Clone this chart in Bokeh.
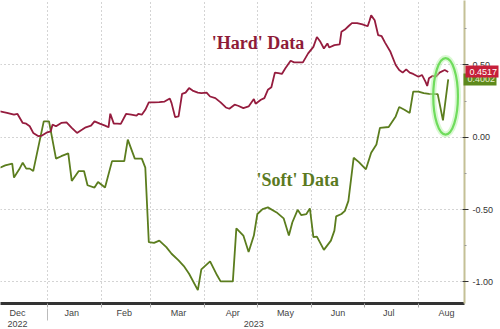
import numpy as np
from bokeh.plotting import figure
from bokeh.models import (ColumnDataSource, FixedTicker, Range1d, Label, LinearAxis,
                          NumeralTickFormatter)
from bokeh.embed import file_html
from bokeh.resources import INLINE

# ---------------- data ----------------
hard_dates = [
    "2022-12-05", "2022-12-09", "2022-12-13", "2022-12-15", "2022-12-18", "2022-12-20", "2022-12-22",
    "2022-12-24", "2022-12-27", "2022-12-29", "2023-01-01", "2023-01-03", "2023-01-04", "2023-01-06",
    "2023-01-09", "2023-01-12", "2023-01-15", "2023-01-18", "2023-01-21", "2023-01-23", "2023-01-26",
    "2023-01-28", "2023-01-31", "2023-02-03", "2023-02-05", "2023-02-06", "2023-02-08", "2023-02-10",
    "2023-02-12", "2023-02-15", "2023-02-18", "2023-02-21", "2023-02-22", "2023-02-24", "2023-02-26",
    "2023-02-28", "2023-03-03", "2023-03-06", "2023-03-09", "2023-03-12", "2023-03-13", "2023-03-15",
    "2023-03-17", "2023-03-19", "2023-03-21", "2023-03-23", "2023-03-25", "2023-03-28", "2023-03-30",
    "2023-04-02", "2023-04-04", "2023-04-07", "2023-04-10", "2023-04-13", "2023-04-15", "2023-04-18",
    "2023-04-20", "2023-04-23", "2023-04-26",
    "2023-04-29", "2023-04-30", "2023-05-03", "2023-05-05", "2023-05-07", "2023-05-09", "2023-05-11",
    "2023-05-13", "2023-05-15", "2023-05-17", "2023-05-20", "2023-05-22", "2023-05-24", "2023-05-27",
    "2023-05-30", "2023-06-02", "2023-06-04", "2023-06-06", "2023-06-08", "2023-06-10", "2023-06-11",
    "2023-06-14", "2023-06-17", "2023-06-18", "2023-06-20", "2023-06-22", "2023-06-24", "2023-06-27",
    "2023-06-30", "2023-07-03", "2023-07-04", "2023-07-05", "2023-07-07", "2023-07-09", "2023-07-11",
    "2023-07-13", "2023-07-16", "2023-07-19", "2023-07-21", "2023-07-23", "2023-07-25", "2023-07-27",
    "2023-07-29", "2023-08-01", "2023-08-03", "2023-08-05", "2023-08-06", "2023-08-07", "2023-08-09",
    "2023-08-11", "2023-08-13", "2023-08-16", "2023-08-18",
]
hard_values = [
    0.179, 0.168, 0.156, 0.161, 0.099, 0.094, 0.076,
    0.030, 0.007, 0.012, 0.034, 0.041, 0.087, 0.076,
    0.099, 0.103, 0.065, 0.030, 0.053, 0.069, 0.080,
    0.110, 0.094, 0.080, 0.069, 0.163, 0.094, 0.094,
    0.092, 0.161, 0.156, 0.149, 0.161, 0.156, 0.190,
    0.241, 0.241, 0.243, 0.247, 0.268, 0.236, 0.140,
    0.144, 0.300, 0.309, 0.340, 0.323, 0.309, 0.305,
    0.309, 0.282, 0.271, 0.241, 0.206, 0.197, 0.225,
    0.218, 0.202, 0.213,
    0.264, 0.232, 0.259, 0.271, 0.328, 0.346, 0.447,
    0.443, 0.438, 0.477, 0.529, 0.518, 0.518, 0.518,
    0.580, 0.625, 0.694, 0.660, 0.614, 0.649, 0.621,
    0.637, 0.642, 0.729, 0.745, 0.768, 0.790, 0.790,
    0.781, 0.768, 0.804, 0.843, 0.809, 0.706, 0.699,
    0.653, 0.591, 0.500, 0.465, 0.447, 0.470, 0.447,
    0.438, 0.419, 0.431, 0.385, 0.355, 0.408, 0.424,
    0.419, 0.447, 0.465, 0.4517,
]

soft_dates = [
    "2022-12-05", "2022-12-08", "2022-12-12", "2022-12-13", "2022-12-16", "2022-12-18", "2022-12-20",
    "2022-12-22", "2022-12-24", "2022-12-30", "2023-01-02", "2023-01-06", "2023-01-09", "2023-01-13",
    "2023-01-15", "2023-01-19", "2023-01-22", "2023-01-24", "2023-01-28", "2023-01-30", "2023-02-03",
    "2023-02-07", "2023-02-14", "2023-02-16", "2023-02-20", "2023-02-24", "2023-02-26", "2023-02-28",
    "2023-03-03", "2023-03-06", "2023-03-10", "2023-03-13", "2023-03-17", "2023-03-20", "2023-03-23",
    "2023-03-28", "2023-03-30", "2023-04-04", "2023-04-08", "2023-04-10", "2023-04-17", "2023-04-19",
    "2023-04-23", "2023-04-26", "2023-04-29", "2023-05-01", "2023-05-04", "2023-05-07", "2023-05-12",
    "2023-05-16", "2023-05-19", "2023-05-21", "2023-05-24", "2023-05-26", "2023-05-29", "2023-05-31",
    "2023-06-02", "2023-06-04", "2023-06-08", "2023-06-12", "2023-06-14", "2023-06-15", "2023-06-18",
    "2023-06-20", "2023-06-22", "2023-06-25", "2023-06-28", "2023-07-02", "2023-07-05", "2023-07-08",
    "2023-07-10", "2023-07-15", "2023-07-19", "2023-07-21", "2023-07-24", "2023-07-27", "2023-07-29",
    "2023-08-01", "2023-08-04", "2023-08-07", "2023-08-12", "2023-08-15", "2023-08-18",
]
soft_values = [
    -0.210, -0.195, -0.183, -0.279, -0.222, -0.176, -0.217,
    -0.217, -0.234, 0.110, 0.110, -0.148, -0.131, -0.112,
    -0.302, -0.234, -0.234, -0.332, -0.348, -0.309, -0.348,
    -0.165, -0.165, -0.016, -0.148, -0.148, -0.210, -0.726,
    -0.731, -0.715, -0.760, -0.806, -0.852, -0.891, -0.944,
    -1.058, -0.914, -0.859, -0.955, -0.997, -0.997, -0.630,
    -0.680, -0.794, -0.680, -0.531, -0.497, -0.485, -0.520,
    -0.561, -0.680, -0.588, -0.502, -0.538, -0.531, -0.492,
    -0.691, -0.687, -0.779, -0.715, -0.646, -0.547, -0.531,
    -0.509, -0.440, -0.142, -0.172, -0.222, -0.107, -0.050,
    0.065, 0.071, 0.144, 0.209, 0.190, 0.168, 0.316,
    0.316, 0.305, 0.300, 0.298, 0.117, 0.4002,
]

month_starts = ["2023-01-01", "2023-02-01", "2023-03-01", "2023-04-01",
                "2023-05-01", "2023-06-01", "2023-07-01", "2023-08-01"]
month_label_dates = ["2022-12-15", "2023-01-15", "2023-02-14", "2023-03-17", "2023-04-17",
                     "2023-05-17", "2023-06-16", "2023-07-15", "2023-08-17"]
month_names = ["Dec", "Jan", "Feb", "Mar", "Apr", "May", "Jun", "Jul", "Aug"]
year_label_dates = ["2022-12-15", "2023-04-29"]
year_names = ["2022", "2023"]
year_break = ["2023-01-01"]
y_ticks = [-1.0, -0.5, 0.0, 0.5]
y_minor = [-0.75, -0.25, 0.25, 0.75]

# ---------------- helpers ----------------
EPOCH = np.datetime64("2023-01-01")


def days(ds):
    return [int((np.datetime64(d) - EPOCH).astype(int)) for d in ds]


RED = "#951c3e"
GREEN = "#5b7d1e"
Y0, Y1 = -1.150, 0.946

p = figure(width=500, height=329, output_backend="svg", toolbar_location=None,
           x_range=Range1d(-26.7, 238.3), y_range=Range1d(Y0, Y1),
           y_axis_location="right", min_border_left=0, min_border_top=0,
           min_border_right=31, min_border_bottom=0, outline_line_color=None,
           background_fill_color="white", border_fill_color="white")

# grid
p.xgrid.ticker = FixedTicker(ticks=days(month_starts))
for g in (p.xgrid, p.ygrid):
    g.grid_line_color = "#a8a8a8"
    g.grid_line_dash = "1 3"
    g.grid_line_width = 1

LBL = dict(major_label_text_font="Liberation Sans", major_label_text_font_size="9px",
           major_label_text_color="#444444")

# month axis
xa = p.xaxis[0]
xa.ticker = FixedTicker(ticks=days(month_label_dates), minor_ticks=days(month_starts))
xa.major_label_overrides = dict(zip(days(month_label_dates), month_names))
xa.major_tick_out = 0
xa.major_tick_in = 0
xa.minor_tick_out = 4
xa.minor_tick_in = 0
xa.minor_tick_line_color = "#aaaaaa"
xa.axis_line_width = 3
xa.axis_line_color = "#333333"
xa.major_label_standoff = 0
for k, v in LBL.items():
    setattr(xa, k, v)

# year axis (second row)
yax = LinearAxis(ticker=FixedTicker(ticks=days(year_label_dates), minor_ticks=days(year_break)),
                 major_label_overrides=dict(zip(days(year_label_dates), year_names)),
                 axis_line_color=None, major_tick_out=0, major_tick_in=0,
                 minor_tick_out=0, minor_tick_in=12, minor_tick_line_color="#bbbbbb",
                 major_label_standoff=0, **LBL)
p.add_layout(yax, "below")

# right value axis
ya = p.yaxis[0]
ya.ticker = FixedTicker(ticks=y_ticks, minor_ticks=y_minor)
ya.formatter = NumeralTickFormatter(format="0.00")
ya.axis_line_color = "#c4c096"
ya.axis_line_width = 2
ya.major_tick_in = 2
ya.major_tick_out = 4
ya.major_tick_line_color = "#333333"
ya.minor_tick_in = 0
ya.minor_tick_out = 2
ya.minor_tick_line_color = "#999999"
ya.major_label_standoff = 4
for k, v in LBL.items():
    setattr(ya, k, v)
ya.major_label_text_color = "#333333"


# last-value tags: extra right axes whose single tick is drawn as a coloured bar
def tag_axis(val, fill, text_color):
    return LinearAxis(ticker=FixedTicker(ticks=[val], minor_ticks=[]),
                      formatter=NumeralTickFormatter(format="0.0000"),
                      axis_line_color=None, major_tick_out=0, major_tick_in=33,
                      major_tick_line_color=fill, major_tick_line_width=12,
                      minor_tick_line_color=None, major_label_standoff=-29,
                      major_label_text_font="Liberation Sans",
                      major_label_text_font_size="9px", major_label_text_color=text_color)


p.add_layout(tag_axis(soft_values[-1], "#5e8a1c", "#e8efd0"), "right")
p.add_layout(tag_axis(hard_values[-1], "#c61f3a", "white"), "right")

# series
hard_src = ColumnDataSource(dict(x=days(hard_dates), y=hard_values))
soft_src = ColumnDataSource(dict(x=days(soft_dates), y=soft_values))
p.line("x", "y", source=soft_src, line_color=GREEN, line_width=1.8)
p.line("x", "y", source=hard_src, line_color=RED, line_width=1.8)

# highlight ellipse around last soft-data drop
ell_x, ell_y, ell_w, ell_h = 227.5, 0.283, 14.1, 0.529
p.ellipse(x=ell_x, y=ell_y, width=ell_w, height=ell_h, fill_color=None,
          line_color="#b6f2a8", line_width=6, line_alpha=0.5)
p.ellipse(x=ell_x, y=ell_y, width=ell_w, height=ell_h, fill_color=None,
          line_color="#6fdc5c", line_width=2.2)

# annotations
p.add_layout(Label(x=120.4, y=0.655, text="'Hard' Data", text_align="center",
                   text_baseline="middle", text_font="Liberation Serif",
                   text_font_style="bold", text_font_size="18px", text_color="#8e1b38"))
p.add_layout(Label(x=143.0, y=-0.294, text="'Soft' Data", text_align="center",
                   text_baseline="middle", text_font="Liberation Serif",
                   text_font_style="bold", text_font_size="18px", text_color="#5b7a1f"))

with open("out.html", "w") as f:
    f.write(file_html(p, INLINE))
